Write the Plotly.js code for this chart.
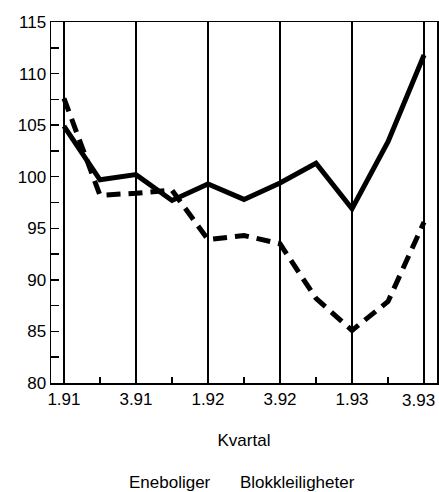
<!DOCTYPE html>
<html>
<head>
<meta charset="utf-8">
<script src="https://cdn.plot.ly/plotly-3.0.1.min.js"></script>
<style>html,body{margin:0;padding:0;background:#fff;}#chart{width:439px;height:492px;}</style>
</head>
<body>
<div id="chart"></div>
<script>
var quarters = ["1.91","2.91","3.91","4.91","1.92","2.92","3.92","4.92","1.93","2.93","3.93"];
var seriesNames = ["Eneboliger", "Blokkleiligheter"];
var eneboliger = [104.9, 99.7, 100.2, 97.7, 99.3, 97.8, 99.4, 101.3, 96.9, 103.4, 111.8];
var blokk = [107.6, 98.2, 98.4, 98.7, 93.9, 94.3, 93.5, 88.2, 85.1, 87.9, 95.6];
var xTitle = "Kvartal";
var yTicks = [80, 85, 90, 95, 100, 105, 110, 115];

var idx = quarters.map(function(q, i){ return i; });
var lastIdx = idx.length - 1;
var majorIdx = idx.filter(function(i){ return i % 2 === 0; });
var minorIdx = idx.filter(function(i){ return i % 2 === 1; });

var FONT = '"Liberation Sans", Arial, sans-serif';

var traces = [
  {x: idx, y: eneboliger, name: seriesNames[0], mode: 'lines', type: 'scatter',
   line: {color: '#000', width: 5}, hoverinfo: 'skip'},
  {x: idx, y: blokk, name: seriesNames[1], mode: 'lines', type: 'scatter',
   line: {color: '#000', width: 5, dash: '14px,8px'}, hoverinfo: 'skip'}
];

var layout = {
  width: 439, height: 492,
  margin: {l: 51, r: 2, t: 22, b: 109},
  paper_bgcolor: '#fff', plot_bgcolor: '#fff',
  showlegend: false,
  font: {family: FONT, color: '#000', size: 17},
  xaxis: {
    range: [-0.36, 10.36],
    tickmode: 'array', tickvals: majorIdx,
    ticktext: majorIdx.map(function(i){ return i === lastIdx ? '' : quarters[i]; }),
    ticks: '', showgrid: true, gridcolor: '#000', gridwidth: 1.2,
    zeroline: false, showline: true, linecolor: '#000', linewidth: 1.5, mirror: true,
    tickfont: {family: FONT, size: 17},
    minor: {tickmode: 'array', tickvals: minorIdx, ticks: 'inside', ticklen: 6, tickwidth: 1.5, tickcolor: '#000', showgrid: false},
    title: {text: xTitle, font: {family: FONT, size: 17}, standoff: 26}
  },
  yaxis: {
    range: [80, 115],
    tickmode: 'array', tickvals: yTicks,
    ticks: 'inside', ticklen: 8, tickwidth: 1.5, tickcolor: '#000',
    showgrid: false, zeroline: false, showline: true, linecolor: '#000', linewidth: 1.5, mirror: true,
    tickfont: {family: FONT, size: 17},
    minor: {dtick: 2.5, tick0: 80, ticks: 'inside', ticklen: 8, tickwidth: 1.5, tickcolor: '#000', showgrid: false}
  },
  annotations: [
    {xref: 'x', yref: 'paper', x: lastIdx, y: 0, xanchor: 'right', yanchor: 'top', xshift: 13, yshift: -6,
     text: quarters[lastIdx], showarrow: false, font: {family: FONT, size: 17, color: '#000'}},
    {xref: 'paper', yref: 'paper', x: (170 - 51) / 386, y: -(482 - 383) / 361, xanchor: 'center', yanchor: 'middle',
     text: seriesNames[0], showarrow: false, font: {family: FONT, size: 17, color: '#000'}},
    {xref: 'paper', yref: 'paper', x: (297 - 51) / 386, y: -(482 - 383) / 361, xanchor: 'center', yanchor: 'middle',
     text: seriesNames[1], showarrow: false, font: {family: FONT, size: 17, color: '#000'}}
  ]
};

Plotly.newPlot('chart', traces, layout, {staticPlot: true, displayModeBar: false});
</script>
</body>
</html>
